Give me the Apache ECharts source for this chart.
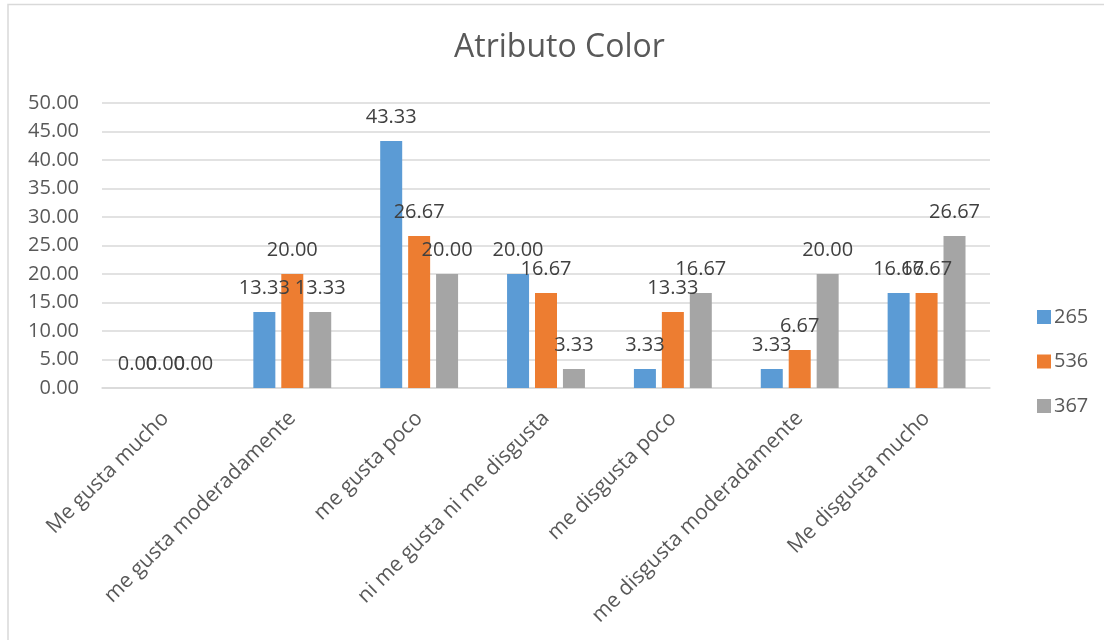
<!DOCTYPE html>
<html>
<head>
<meta charset="utf-8">
<style>
  html, body { margin: 0; padding: 0; background: #ffffff; }
  #chart { width: 1104px; height: 640px; }
</style>
<script src="https://cdn.jsdelivr.net/npm/echarts@6/dist/echarts.min.js"></script>
</head>
<body>
<div id="chart"></div>
<script>
const categories = [
  'Me gusta mucho',
  'me gusta moderadamente',
  'me gusta poco',
  'ni me gusta ni me disgusta',
  'me disgusta poco',
  'me disgusta moderadamente',
  'Me disgusta mucho'
];
const seriesNames = ['265', '536', '367'];
const values265 = [0.00, 13.33, 43.33, 20.00, 3.33, 3.33, 16.67];
const values536 = [0.00, 20.00, 26.67, 16.67, 13.33, 6.67, 16.67];
const values367 = [0.00, 13.33, 20.00, 3.33, 16.67, 20.00, 26.67];
const colors = ['#5B9BD5', '#ED7D31', '#A5A5A5'];

const FONT = '"Open Sans", "Noto Sans", sans-serif';

function barSeries(name, data, color) {
  return {
    name: name,
    type: 'bar',
    data: data,
    barWidth: 22,
    barGap: '27%',
    itemStyle: { color: color },
    label: {
      show: true,
      position: 'top',
      distance: 14,
      color: '#404040',
      fontFamily: FONT,
      fontSize: 20,
      formatter: p => p.value.toFixed(2)
    }
  };
}

const chart = echarts.init(document.getElementById('chart'), null, { renderer: 'canvas' });
chart.setOption({
  animation: false,
  color: colors,
  title: {
    text: 'Atributo Color',
    left: 449,
    top: 27,
    textStyle: { color: '#595959', fontFamily: FONT, fontSize: 32, fontWeight: 'normal' }
  },
  graphic: [{
    type: 'rect',
    shape: { x: 8, y: 4.5, width: 1110, height: 650 },
    style: { fill: 'none', stroke: '#D9D9D9', lineWidth: 1.5 },
    silent: true
  }],
  legend: {
    orient: 'vertical',
    left: 1032,
    top: 302,
    itemWidth: 14,
    itemHeight: 14,
    itemGap: 24.5,
    icon: 'rect',
    data: seriesNames,
    textStyle: { color: '#595959', fontFamily: FONT, fontSize: 20, padding: [0, 0, 0, -2] }
  },
  grid: { left: 102, right: 114, top: 103, bottom: 252 },
  xAxis: {
    type: 'category',
    data: categories,
    axisLine: { lineStyle: { color: '#D9D9D9', width: 1.5 } },
    axisTick: { show: false },
    axisLabel: {
      rotate: 45,
      margin: 27,
      interval: 0,
      color: '#595959',
      fontFamily: FONT,
      fontSize: 21
    }
  },
  yAxis: {
    type: 'value',
    min: 0,
    max: 50,
    interval: 5,
    axisLine: { show: false },
    axisTick: { show: false },
    splitLine: { lineStyle: { color: '#D9D9D9', width: 1.5 } },
    axisLabel: {
      margin: 23,
      color: '#595959',
      fontFamily: FONT,
      fontSize: 20,
      formatter: v => v.toFixed(2)
    }
  },
  series: [
    barSeries(seriesNames[0], values265, colors[0]),
    barSeries(seriesNames[1], values536, colors[1]),
    barSeries(seriesNames[2], values367, colors[2])
  ]
});
</script>
</body>
</html>
